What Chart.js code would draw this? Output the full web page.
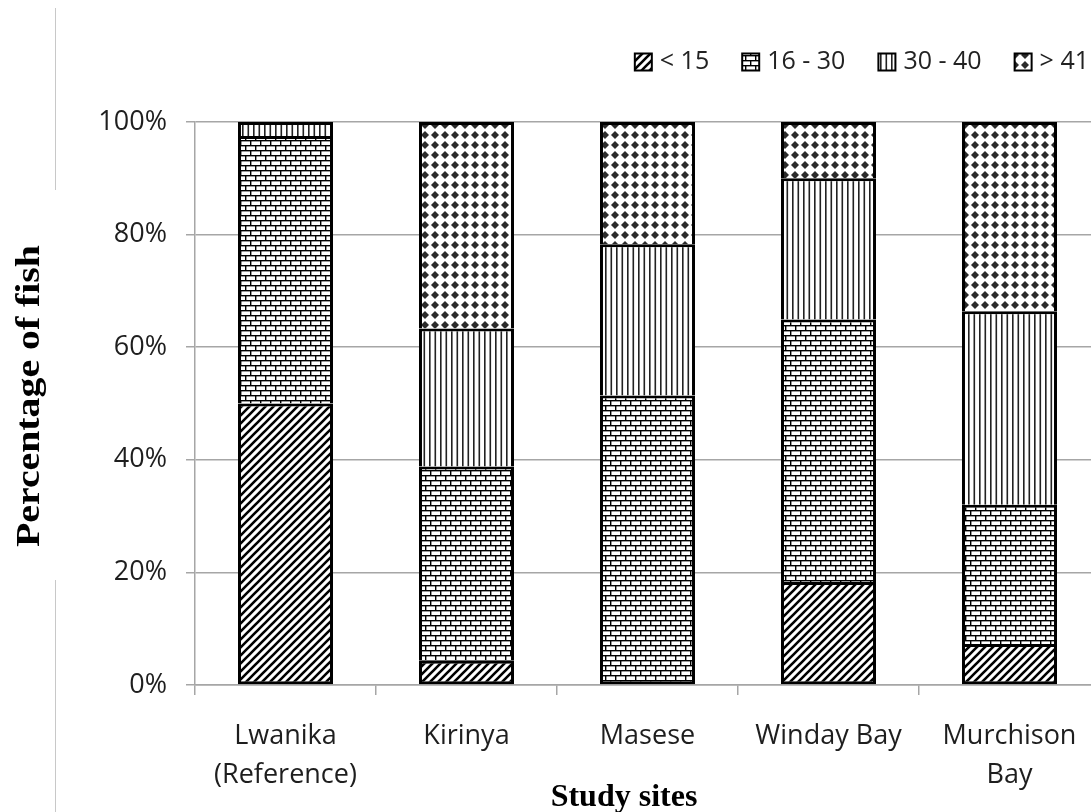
<!DOCTYPE html>
<html>
<head>
<meta charset="utf-8">
<title>Percentage of fish by size class and study site</title>
<script src="https://cdn.jsdelivr.net/npm/chart.js@4/dist/chart.umd.min.js"></script>
<style>
  html, body { margin: 0; padding: 0; background: #fff; overflow: hidden; }
  #wrap { width: 1100px; height: 812px; }
</style>
</head>
<body>
<div id="wrap"><canvas id="chart" width="1100" height="812"></canvas></div>
<script>
// Study sites (x categories)
const sites = [['Lwanika', '(Reference)'], 'Kirinya', 'Masese', 'Winday Bay', ['Murchison', 'Bay']];
// Size classes (legend)
const sizeClasses = ['< 15', '16 - 30', '30 - 40', '> 41'];
// Percentage of fish in each size class per site
const under15    = [50.0,  4.3,  0.0, 18.3,  7.3];
const from16to30 = [47.5, 34.5, 51.4, 46.6, 24.7];
const from30to40 = [ 2.5, 24.5, 26.9, 25.1, 34.4];
const over41     = [ 0.0, 36.7, 21.7, 10.0, 33.6];
// Y axis ticks (%)
const yTicks = [0, 20, 40, 60, 80, 100];
// Axis titles
const xTitle = 'Study sites';
const yTitle = 'Percentage of fish';

const seriesValues = [under15, from16to30, from30to40, over41];

// ---- hatch fills ----
function makePattern(w, h, draw) {
  const c = document.createElement('canvas');
  c.width = w; c.height = h;
  const g = c.getContext('2d');
  g.fillStyle = '#fff';
  g.fillRect(0, 0, w, h);
  draw(g, w, h);
  return g.createPattern(c, 'repeat');
}

const diagonal = makePattern(8, 8, g => {
  g.strokeStyle = '#000';
  g.lineWidth = 2.6;
  g.beginPath();
  g.moveTo(-2, 10); g.lineTo(10, -2);
  g.moveTo(-2, 2);  g.lineTo(2, -2);
  g.moveTo(6, 10);  g.lineTo(10, 6);
  g.stroke();
});

const brick = makePattern(10, 10, g => {
  g.fillStyle = '#000';
  g.fillRect(0, 0, 10, 1.4);
  g.fillRect(0, 5, 10, 1.4);
  g.fillRect(0, 0, 1.4, 5);
  g.fillRect(5, 5, 1.4, 5);
});

const vertical = makePattern(11, 2, g => {
  g.fillStyle = '#222';
  g.fillRect(0, 0, 1.6, 2);
  g.fillRect(5.5, 0, 1.6, 2);
});

const diamonds = makePattern(10, 10, g => {
  g.fillStyle = '#2b2b2b';
  g.beginPath();
  g.moveTo(5, 1.0); g.lineTo(9.0, 5); g.lineTo(5, 9.0); g.lineTo(1.0, 5);
  g.closePath();
  g.fill();
});

const fills = [diagonal, brick, vertical, diamonds];

// Bottom border only on the lowest non-empty segment of each stack
function segmentBorder(ctx) {
  const i = ctx.dataIndex, d = ctx.datasetIndex;
  let lowest = true;
  for (let k = 0; k < d; k++) if (seriesValues[k][i] > 0) lowest = false;
  return { top: 3, left: 3, right: 3, bottom: lowest ? 3 : 0 };
}

const datasets = sizeClasses.map((label, k) => ({
  label,
  data: seriesValues[k],
  backgroundColor: fills[k],
  borderColor: '#000',
  borderWidth: segmentBorder,
  borderSkipped: false,
  barPercentage: 0.525,
  categoryPercentage: 1.0
}));

const textFont = "'Open Sans', 'Noto Sans', sans-serif";
const serifFont = "'Liberation Serif', 'DejaVu Serif', serif";

// Legend row, right-aligned above the plot
const legendRow = {
  id: 'legendRow',
  afterDraw(chart) {
    const ctx = chart.ctx;
    const box = 17, gapBox = 8, gapItem = 33, yc = 62;
    ctx.save();
    ctx.font = `25px ${textFont}`;
    ctx.textBaseline = 'middle';
    ctx.textAlign = 'left';
    let x = 1089;
    for (let k = sizeClasses.length - 1; k >= 0; k--) {
      const w = ctx.measureText(sizeClasses[k]).width;
      const tx = x - w;
      ctx.fillStyle = '#222';
      ctx.fillText(sizeClasses[k], tx, yc);
      const bx = tx - gapBox - box;
      ctx.fillStyle = fills[k];
      ctx.fillRect(bx, yc - box / 2, box, box);
      ctx.lineWidth = 2;
      ctx.strokeStyle = '#000';
      ctx.strokeRect(bx, yc - box / 2, box, box);
      x = bx - gapItem;
    }
    ctx.restore();
  }
};

// Axis titles in bold serif
const axisTitles = {
  id: 'axisTitles',
  afterDraw(chart) {
    const ctx = chart.ctx;
    ctx.save();
    ctx.fillStyle = '#000';
    ctx.font = `bold 32px ${serifFont}`;
    ctx.textAlign = 'center';
    ctx.textBaseline = 'alphabetic';
    ctx.fillText(xTitle, 624, 806);
    // vertical title, set a little wider along its run
    ctx.translate(30, 396);
    ctx.rotate(-Math.PI / 2);
    ctx.scale(1.17, 1);
    ctx.textBaseline = 'middle';
    ctx.font = `bold 34px ${serifFont}`;
    ctx.fillText(yTitle, 0, 0);
    ctx.restore();
  }
};

// Thin page rules at the left edge
const pageRules = {
  id: 'pageRules',
  afterDraw(chart) {
    const ctx = chart.ctx;
    ctx.save();
    ctx.strokeStyle = '#c8c8c8';
    ctx.lineWidth = 1;
    ctx.beginPath();
    ctx.moveTo(55.5, 8);  ctx.lineTo(55.5, 190);
    ctx.moveTo(55.5, 580); ctx.lineTo(55.5, 812);
    ctx.stroke();
    ctx.restore();
  }
};

new Chart(document.getElementById('chart'), {
  type: 'bar',
  data: { labels: sites, datasets },
  plugins: [legendRow, axisTitles, pageRules],
  options: {
    responsive: false,
    animation: false,
    devicePixelRatio: 1,
    layout: { padding: { top: 122, left: 0, right: 0, bottom: 0 } },
    plugins: {
      tooltip: { enabled: false },
      legend: { display: false }
    },
    scales: {
      x: {
        stacked: true,
        afterFit(scale) { scale.height = 127; },
        grid: {
          display: true,
          drawOnChartArea: false,
          offset: true,
          tickLength: 10,
          color: '#a6a6a6',
          lineWidth: 1.5
        },
        border: { display: true, color: '#a6a6a6', width: 1.5 },
        ticks: {
          color: '#1e1e1e',
          padding: 22,
          maxRotation: 0,
          autoSkip: false,
          font: { family: textFont, size: 27, lineHeight: 1.43 }
        }
      },
      y: {
        stacked: true,
        min: 0,
        max: 100,
        afterFit(scale) { scale.width = 195; },
        afterBuildTicks(scale) { scale.ticks = yTicks.map(v => ({ value: v })); },
        grid: {
          color: '#a6a6a6',
          lineWidth: 1.5,
          tickLength: 9
        },
        border: { display: true, color: '#a6a6a6', width: 1.5 },
        ticks: {
          color: '#1e1e1e',
          padding: 19,
          font: { family: textFont, size: 27 },
          callback: v => v + '%'
        }
      }
    }
  }
});
</script>
</body>
</html>
